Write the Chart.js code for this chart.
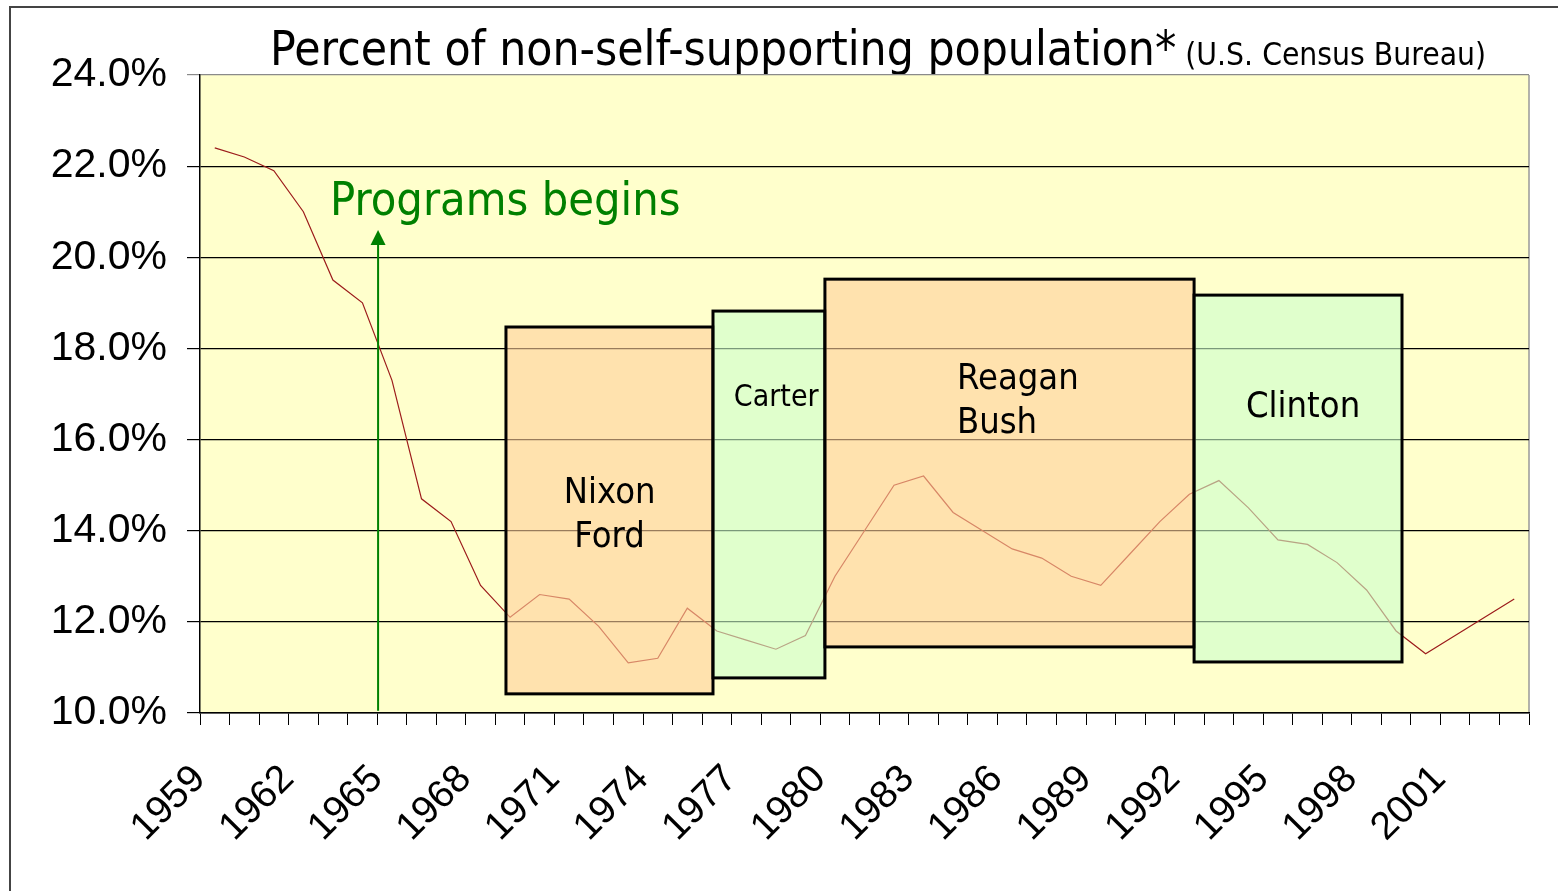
<!DOCTYPE html>
<html><head><meta charset="utf-8">
<script src="https://cdn.jsdelivr.net/npm/chart.js@4/dist/chart.umd.min.js"></script>
<style>html,body{margin:0;padding:0;background:#fff;overflow:hidden}canvas{display:block}</style>
</head><body>
<canvas id="c" width="1558" height="891"></canvas>
<script>
// ---- data ----
const years = ['1959','1960','1961','1962','1963','1964','1965','1966','1967','1968','1969','1970','1971','1972','1973','1974','1975','1976','1977','1978','1979','1980','1981','1982','1983','1984','1985','1986','1987','1988','1989','1990','1991','1992','1993','1994','1995','1996','1997','1998','1999','2000','2001','2002','2003'];
const povertyRate = [22.4,22.2,21.9,21.0,19.5,19.0,17.3,14.7,14.2,12.8,12.1,12.6,12.5,11.9,11.1,11.2,12.3,11.8,11.6,11.4,11.7,13.0,14.0,15.0,15.2,14.4,14.0,13.6,13.4,13.0,12.8,13.5,14.2,14.8,15.1,14.5,13.8,13.7,13.3,12.7,11.8,11.3,11.7,12.1,12.5];
const xTickLabels = ['1959','1962','1965','1968','1971','1974','1977','1980','1983','1986','1989','1992','1995','1998','2001'];
const yTicks = [10,12,14,16,18,20,22,24];

// presidential terms (in year / percent coordinates)
const termNames = [['Nixon','Ford'],['Carter'],['Reagan','Bush'],['Clinton']];
const termFrom  = [1968.86, 1975.87, 1979.66, 1992.16];
const termTo    = [1975.87, 1979.66, 1992.16, 1999.20];
const termTop   = [18.47, 18.82, 19.52, 19.17];
const termBottom= [10.42, 10.77, 11.45, 11.12];
const programStartYear = 1964.53;

// ---- styles / annotation layout ----
const boxFills = ['rgba(255,207,154,0.6)','rgba(203,255,204,0.6)','rgba(255,207,154,0.6)','rgba(203,255,204,0.6)'];
const termLabels = [
  {text:'Nixon',  year:1972.37, value:14.61, size:36, align:'center'},
  {text:'Ford',   year:1972.37, value:13.64, size:36, align:'center'},
  {text:'Carter', year:1978.01, value:16.74, size:30, align:'center'},
  {text:'Reagan', year:1984.13, value:17.11, size:36, align:'left'},
  {text:'Bush',   year:1984.13, value:16.14, size:36, align:'left'},
  {text:'Clinton',year:1995.85, value:16.50, size:36, align:'center'}
];
const TXT_FONT = '"DejaVu Sans", Tahoma, sans-serif';
const HSCALE = 0.9;

function drawText(ctx, text, x, y, size, color, align){
  ctx.save();
  ctx.font = size + 'px ' + TXT_FONT;
  ctx.fillStyle = color;
  ctx.textBaseline = 'alphabetic';
  ctx.textAlign = align;
  ctx.translate(x, y);
  ctx.scale(HSCALE, 1);
  ctx.fillText(text, 0, 0);
  ctx.restore();
}
function measure(ctx, text, size){
  ctx.save(); ctx.font = size + 'px ' + TXT_FONT;
  const w = ctx.measureText(text).width * HSCALE; ctx.restore(); return w;
}

const bgPlugin = {
  id:'bg',
  beforeDraw(chart){
    const {ctx, chartArea:a} = chart;
    ctx.save();
    ctx.fillStyle = '#fff';
    ctx.fillRect(0,0,chart.width,chart.height);
    ctx.fillStyle = '#FFFFCC';
    ctx.fillRect(a.left, a.top, a.right-a.left, a.bottom-a.top);
    // outer frame
    ctx.strokeStyle = '#444'; ctx.lineWidth = 2;
    ctx.beginPath(); ctx.moveTo(10, chart.height); ctx.lineTo(10, 7); ctx.lineTo(chart.width, 7); ctx.stroke();
    // plot border (right side)
    ctx.strokeStyle = '#999'; ctx.lineWidth = 1.5;
    ctx.beginPath(); ctx.moveTo(a.right, a.top); ctx.lineTo(a.right, a.bottom); ctx.stroke();
    ctx.restore();
    // title
    const t1 = 'Percent of non-self-supporting population*';
    drawText(ctx, t1, 270, 65, 47.5, '#000', 'left');
    drawText(ctx, '(U.S. Census Bureau)', 270 + measure(ctx, t1, 47.5) + 9, 65, 31.5, '#000', 'left');
  }
};

const overlayPlugin = {
  id:'overlay',
  afterDatasetsDraw(chart){
    const {ctx, scales:{x, y}} = chart;
    const px = yr => x.getPixelForValue(yr - 1959);
    ctx.save();
    for (let i = 0; i < termFrom.length; i++){
      const l = px(termFrom[i]), r = px(termTo[i]);
      const t = y.getPixelForValue(termTop[i]), b = y.getPixelForValue(termBottom[i]);
      ctx.fillStyle = boxFills[i];
      ctx.fillRect(l, t, r-l, b-t);
      ctx.strokeStyle = '#000'; ctx.lineWidth = 3;
      ctx.strokeRect(l, t, r-l, b-t);
    }
    ctx.restore();
    termLabels.forEach(lb => drawText(ctx, lb.text, px(lb.year), y.getPixelForValue(lb.value), lb.size, '#000', lb.align));
    // arrow
    const ax = px(programStartYear);
    const yb = y.getPixelForValue(10.05), yt = y.getPixelForValue(20.6);
    ctx.save();
    ctx.strokeStyle = '#008000'; ctx.fillStyle = '#008000'; ctx.lineWidth = 2;
    ctx.beginPath(); ctx.moveTo(ax, yb); ctx.lineTo(ax, yt + 12); ctx.stroke();
    ctx.beginPath(); ctx.moveTo(ax, yt); ctx.lineTo(ax - 7.5, yt + 15); ctx.lineTo(ax + 7.5, yt + 15); ctx.closePath(); ctx.fill();
    ctx.restore();
    drawText(ctx, 'Programs begins', px(1962.9), y.getPixelForValue(20.93), 46.5, '#008000', 'left');
  }
};

new Chart(document.getElementById('c').getContext('2d'), {
  type:'line',
  data:{ labels: years, datasets:[{ data: povertyRate, borderColor:'#9C1C1C', borderWidth:1.2, pointRadius:0, tension:0, fill:false }]},
  options:{
    responsive:false, animation:false, devicePixelRatio:1,
    layout:{ padding:{ left:0, top:75, right:29, bottom:0 } },
    plugins:{ legend:{display:false}, tooltip:{enabled:false}, title:{display:false} },
    scales:{
      x:{
        type:'category', offset:true,
        grid:{ offset:true, drawOnChartArea:false, drawTicks:true, tickLength:12, color:'#000', tickColor:'#000' },
        border:{ display:true, color:'#000', width:1.5 },
        ticks:{ autoSkip:false, maxRotation:45, minRotation:45, padding:16, color:'#000',
          font:{ family:'"Liberation Sans", Arial, sans-serif', size:39 },
          callback:(v,i)=> xTickLabels.includes(years[i]) ? years[i] + '  ' : '' },
        afterFit:s=>{ s.height = 178; s.paddingLeft = 0; s.paddingRight = 0; }
      },
      y:{
        min:10, max:24,
        afterBuildTicks:s=>{ s.ticks = yTicks.map(v=>({value:v})); },
        ticks:{ padding:20, color:'#000', font:{ family:'"Liberation Sans", Arial, sans-serif', size:41 },
          callback:v=> Number(v).toFixed(1) + '%' },
        grid:{ color:c=> (c.tick && c.tick.value === 24) ? '#8a8a8a' : '#000', lineWidth:1.2, tickLength:13, drawTicks:true },
        border:{ color:'#000', width:1.5 },
        afterFit:s=>{ s.width = 200; s.paddingTop = 0; s.paddingBottom = 0; }
      }
    }
  },
  plugins:[bgPlugin, overlayPlugin]
});
</script>
</body></html>
